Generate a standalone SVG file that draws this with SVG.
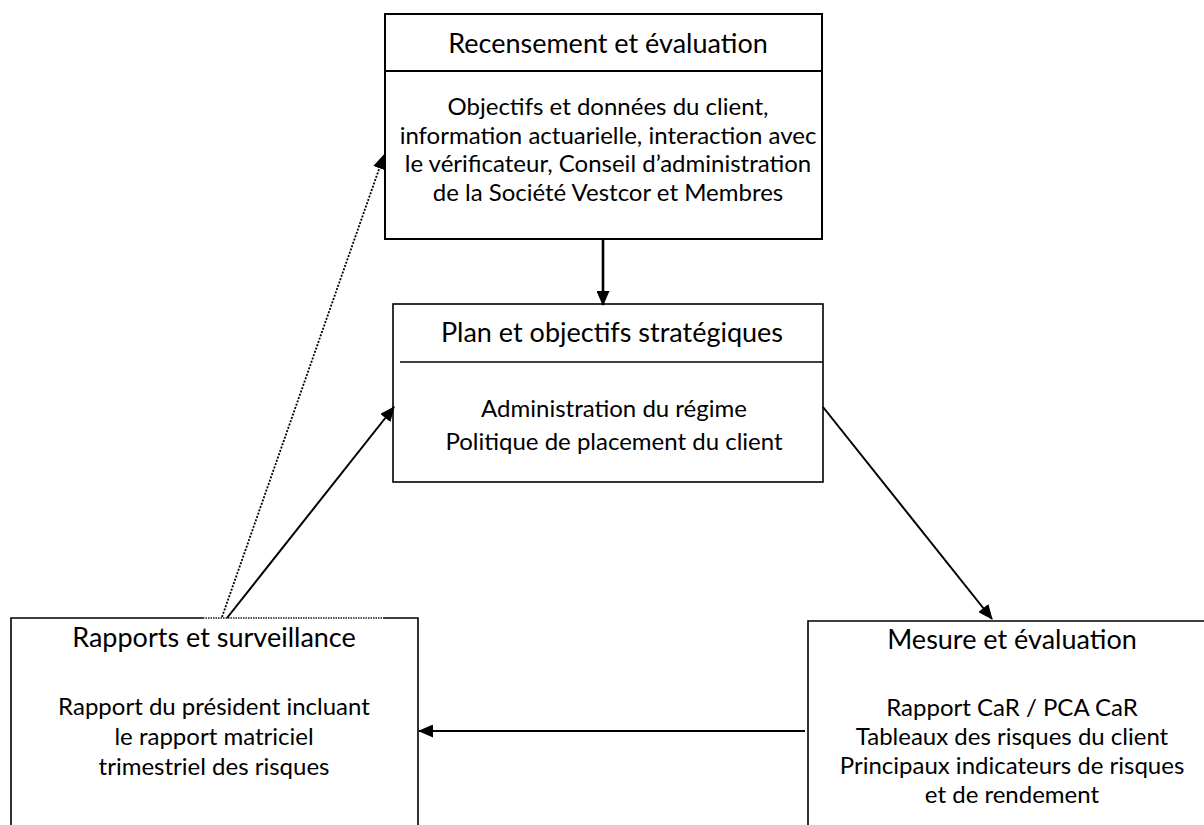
<svg xmlns="http://www.w3.org/2000/svg" width="1204" height="825" viewBox="0 0 1204 825">
<style>
  .box { fill: #ffffff; stroke: #000000; stroke-width: 2; }
  .edge { fill: none; stroke: #000000; stroke-width: 2; }
  .title { font-family: Lato, "Liberation Sans", Arial, sans-serif; font-size: 27px; fill: #000000; text-anchor: middle; }
  .body { font-family: Lato, "Liberation Sans", Arial, sans-serif; font-size: 24px; fill: #000000; text-anchor: middle; }
  .conn { fill: none; stroke: #000000; stroke-width: 2; }
  .thick { stroke-width: 2.6; }
  .dotted { stroke-dasharray: 2 1.5; stroke-width: 1.8; }
</style>
<defs>
  <marker id="arrow" viewBox="0 0 15 13" refX="14" refY="6.5" markerWidth="15" markerHeight="13" markerUnits="userSpaceOnUse" orient="auto">
    <path d="M0,0 L15,6.5 L0,13 Z" fill="#000000"/>
  </marker>
</defs>
<rect width="1204" height="825" fill="#ffffff"/>

<g id="node-recensement">
  <rect class="box" x="385" y="14" width="437" height="225"/>
  <line class="edge" x1="385" y1="71" x2="822" y2="71"/>
  <text class="title" x="608" y="53">Recensement et évaluation</text>
  <text class="body" x="608" y="115">Objectifs et données du client,</text>
  <text class="body" x="608" y="143.5">information actuarielle, interaction avec</text>
  <text class="body" x="608" y="172">le vérificateur, Conseil d’administration</text>
  <text class="body" x="608" y="200.5">de la Société Vestcor et Membres</text>
</g>

<g id="node-plan">
  <rect class="box" x="393" y="304" width="430" height="178" style="stroke-width:1.6"/>
  <line class="edge" x1="400" y1="362" x2="823" y2="362" style="stroke-width:1.6"/>
  <text class="title" x="612" y="342">Plan et objectifs stratégiques</text>
  <text class="body" x="614" y="417">Administration du régime</text>
  <text class="body" x="614" y="450">Politique de placement du client</text>
</g>

<g id="node-rapports">
  <path class="edge" d="M11,830 V618 H203" style="stroke-width:1.6"/>
  <line x1="203" y1="618" x2="383" y2="618" stroke="#555555" stroke-width="2" stroke-dasharray="1.5 1"/>
  <path class="edge" d="M383,618 H418 V830" style="stroke-width:1.6"/>
  <text class="title" x="214" y="647">Rapports et surveillance</text>
  <text class="body" x="214" y="715">Rapport du président incluant</text>
  <text class="body" x="214" y="745">le rapport matriciel</text>
  <text class="body" x="214" y="775">trimestriel des risques</text>
</g>

<g id="node-mesure">
  <path class="edge" d="M808,830 V621 H1210" style="stroke-width:1.6"/>
  <text class="title" x="1012" y="649">Mesure et évaluation</text>
  <text class="body" x="1012" y="716">Rapport CaR / PCA CaR</text>
  <text class="body" x="1012" y="745">Tableaux des risques du client</text>
  <text class="body" x="1012" y="774">Principaux indicateurs de risques</text>
  <text class="body" x="1012" y="803">et de rendement</text>
</g>

<g id="connectors">
  <line class="conn thick" x1="603" y1="240" x2="603" y2="305" marker-end="url(#arrow)"/>
  <line class="conn dotted" x1="222" y1="617" x2="384" y2="155" marker-end="url(#arrow)"/>
  <line class="conn" x1="227" y1="618" x2="394" y2="407" marker-end="url(#arrow)"/>
  <line class="conn" x1="823" y1="407" x2="992" y2="619" marker-end="url(#arrow)"/>
  <line class="conn" x1="805" y1="731" x2="419" y2="731" marker-end="url(#arrow)"/>
</g>
</svg>
